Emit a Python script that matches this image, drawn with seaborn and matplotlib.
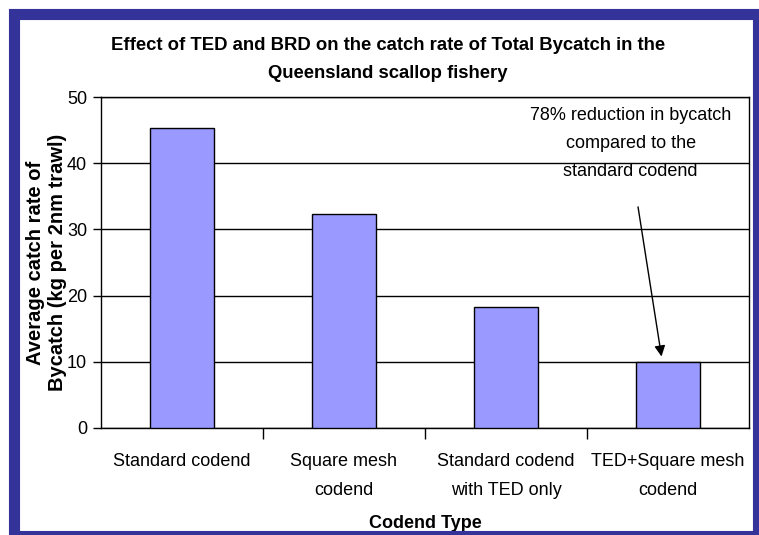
import matplotlib
matplotlib.use("Agg")
import matplotlib.pyplot as plt
from matplotlib.patches import Rectangle
import seaborn as sns
import pandas as pd

codend_types = ["Standard codend", "Square mesh\ncodend",
                "Standard codend\nwith TED only", "TED+Square mesh\ncodend"]
bycatch_rate = [45.3, 32.3, 18.3, 9.9]
y_ticks = [0, 10, 20, 30, 40, 50]

df = pd.DataFrame({"Codend": codend_types, "Bycatch": bycatch_rate})

sns.set_style("white")
plt.rcParams["font.family"] = ["Liberation Sans", "DejaVu Sans"]
plt.rcParams.update({"text.color": "black", "axes.labelcolor": "black",
                     "xtick.color": "black", "ytick.color": "black"})

fig = plt.figure(figsize=(7.59, 5.35), dpi=100)
ax = fig.add_axes([101 / 759, 1 - 428 / 535, 648 / 759, 331 / 535])

sns.barplot(data=df, x="Codend", y="Bycatch", color="#9999FF", saturation=1,
            width=0.4, edgecolor="black", linewidth=1, ax=ax, zorder=3)

ax.set_ylim(0, 50)
ax.set_xlim(-0.5, 3.5)
ax.set_yticks(y_ticks)
ax.set_xticks(range(len(codend_types)), codend_types, linespacing=1.95)
ax.yaxis.grid(True, color="black", linewidth=1)
ax.set_axisbelow(True)
for s in ax.spines.values():
    s.set_visible(True)
    s.set_color("black")
    s.set_linewidth(1)

ax.set_xticks([0.5, 1.5, 2.5], minor=True)
ax.tick_params(axis="x", which="major", length=0, pad=18, labelsize=13)
ax.tick_params(axis="x", which="minor", length=8, width=1, color="black", direction="out", bottom=True)
ax.tick_params(axis="y", length=6, width=1, color="black", direction="out", left=True,
               labelsize=13, pad=4)

ax.set_xlabel("Codend Type", fontsize=13, fontweight="bold", labelpad=11)
ax.set_ylabel("Average catch rate of\nBycatch (kg per 2nm trawl)", fontsize=14.5,
              fontweight="bold", labelpad=0, linespacing=1.2)

fig.text(388 / 759, 1 - 59.5 / 535, "Effect of TED and BRD on the catch rate of Total Bycatch in the\nQueensland scallop fishery",
         ha="center", va="center", fontsize=13.3, fontweight="bold", linespacing=1.78)

# note text and its arrow
ax.text(2.77, 43.0, "78% reduction in bycatch\ncompared to the\nstandard codend",
        ha="center", va="center", fontsize=13, linespacing=1.85)
ax.annotate("", xy=(2.96, 10.8), xytext=(2.815, 33.4),
            arrowprops=dict(arrowstyle="-|>", color="black", lw=1, mutation_scale=16,
                            shrinkA=0, shrinkB=0))

fig.patches.append(Rectangle((13.5 / 759, -0.5 / 535), 744 / 759, 522 / 535, transform=fig.transFigure,
                             fill=False, edgecolor="#333399", linewidth=8, zorder=10))

fig.savefig("out.png", dpi=100)
